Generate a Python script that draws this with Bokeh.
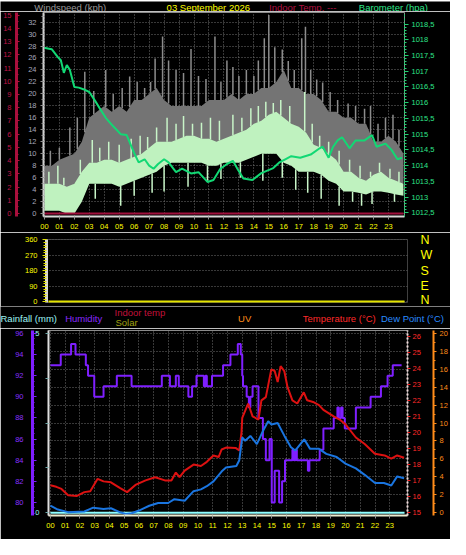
import numpy as np
from bokeh.plotting import figure
from bokeh.models import Range1d, LinearAxis, FixedTicker, CustomJSTickFormatter
from bokeh.core.properties import value
from bokeh.layouts import column
from bokeh.embed import file_html
from bokeh.resources import INLINE

FONT = "Liberation Sans"

# ---------------- data ----------------
hours = list(range(24))

band_t = [0.0, 0.5, 1.0, 1.5, 2.0, 2.5, 3.0, 3.5, 4.0, 4.5, 5.0, 5.5, 6.0, 6.5, 7.0, 7.5,
          8.0, 8.5, 9.0, 9.5, 10.0, 10.5, 11.0, 11.5, 12.0, 12.5, 13.0, 13.5, 14.0, 14.5,
          15.0, 15.5, 16.0, 16.5, 17.0, 17.5, 18.0, 18.5, 19.0, 19.5, 20.0, 20.5, 21.0,
          21.5, 22.0, 22.5, 23.0, 23.5, 24.0]
gust_hi = [8, 8, 9, 9.5, 10, 12, 16, 17, 18, 17, 18, 17, 19, 19, 20, 21, 19, 18, 18, 18,
           18, 18, 19, 19, 19, 20, 19, 20, 20, 21, 21, 22, 24, 21, 21, 20, 20, 19, 17, 17,
           16, 16, 15, 15, 12, 12, 13, 12, 10]
gust_lo = [3, 3, 4, 4, 5, 6, 7, 7, 8, 8, 8, 8, 9, 9, 9, 10, 10, 10, 10, 10,
           10, 10, 10, 10, 10, 10, 10, 11, 11, 12, 12, 12, 11, 10, 10, 9, 8, 8, 7, 7,
           6, 6, 6, 5, 5, 5, 5, 5, 5]
spd_hi = [5, 5, 5, 4.5, 5, 7, 8.5, 8.5, 9, 9, 8.5, 9, 9.5, 10, 11, 12, 12, 12, 12.5, 13,
          13, 12.5, 12.5, 12, 12.5, 13, 13.5, 14, 15, 15.5, 16.5, 17, 16, 15, 14.5, 13.5, 11.5, 11, 10, 9,
          7, 7, 6, 5.5, 6.5, 7, 6, 5.5, 5]
spd_lo = [0.5, 0.5, 0.5, 0, 0, 2, 5, 5, 5, 5, 4.5, 5, 5.5, 6, 6.5, 7, 8, 8.5, 8.5, 8.5,
          8.5, 8.5, 8, 8, 8.5, 8.5, 8.5, 9, 9.5, 10, 10, 10, 8.5, 8, 7, 7, 7, 6.5, 5.5, 5,
          3.7, 3.7, 3.5, 3.2, 3.7, 3.7, 3.5, 3.2, 3]

gust_spike_t = [0.4, 1.0, 1.7, 2.2, 2.7, 3.3, 4.1, 4.6, 5.2, 5.7, 6.2, 6.7, 7.1, 7.4, 7.9,
                8.3, 8.8, 9.3, 9.8, 10.3, 10.8, 11.4, 11.8, 12.2, 12.6, 13.0, 13.5, 14.0,
                14.3, 14.7, 15.0, 15.4, 15.9, 16.3, 16.7, 17.2, 17.45, 17.8, 18.2, 18.6,
                19.1, 19.6, 20.3, 20.8, 21.4, 21.8, 22.3, 22.8, 23.3, 23.7]
gust_spike_v = [10.5, 11, 14.4, 16, 23.7, 20.5, 24, 20, 21, 22.9, 22, 21, 22, 25.9, 29.6,
                25.6, 24, 23.5, 27.5, 23, 22.5, 29.6, 22, 25.6, 24.5, 23, 24, 23,
                25.6, 29.3, 33.2, 27.8, 27.4, 25.5, 24, 29.3, 31.2, 24, 22.4, 21.9,
                20.3, 19, 18.4, 18, 17.5, 18, 15, 16, 16.5, 14]

spd_spike_t = [0.3, 0.9, 1.3, 2.4, 3.2, 3.7, 4.3, 5.0, 5.8, 6.4, 6.9, 7.5, 8.2, 8.8, 9.3,
               9.9, 10.5, 11.1, 11.7, 12.6, 13.2, 13.8, 14.3, 14.8, 15.3, 15.8, 16.4,
               17.4, 17.9, 18.4, 19.0, 19.7, 20.4, 21.1, 21.8, 22.4, 23.1, 23.7]
spd_spike_v = [7, 8, 6, 9, 12.3, 11, 12, 11.5, 12.5, 13, 12.8, 14.4, 16, 15, 16.3,
               15, 15.2, 16, 15.5, 16.5, 16, 17.6, 18, 18.7, 18.5, 19, 18,
               20.3, 15, 13, 12, 10.5, 9, 8, 7, 8.5, 7.5, 7]
spd_dip_t = [1.5, 3.4, 5.1, 6.0, 7.2, 8.0, 9.6, 10.9, 11.8, 13.1, 14.6, 15.9, 16.8, 17.6,
             18.5, 19.7, 20.6, 21.2, 21.9, 23.4]
spd_dip_v = [0, 2.5, 1.3, 3, 3.5, 3.7, 4.5, 5.5, 5.8, 6, 5.5, 6, 4, 3.5,
             2.5, 1.3, 2, 1.3, 1.6, 2]

baro_t = [0.0, 0.3, 0.5, 0.9, 1.1, 1.3, 1.5, 1.7, 2.0, 2.3, 2.6, 3.0, 3.4, 3.7, 4.1, 4.6,
          5.1, 5.5, 6.0, 6.3, 6.7, 7.0, 7.3, 7.6, 8.0, 8.3, 8.8, 9.2, 9.8, 10.3, 10.9, 11.3,
          11.75, 12.2, 12.6, 12.9, 13.3, 13.9, 14.5, 15.3, 15.7, 16.1, 16.5, 17.1, 17.8,
          18.4, 18.6, 19.0, 19.3, 19.6, 19.9, 20.4, 20.8, 21.4, 21.9, 22.2, 22.8, 23.2,
          23.6, 23.9]
baro_v = [1017.75, 1017.72, 1017.70, 1017.45, 1017.35, 1016.95, 1017.2, 1017.05, 1016.5,
          1016.48, 1016.43, 1016.34, 1016.05, 1015.82, 1015.52, 1015.25, 1015.0, 1014.97,
          1014.4, 1014.1, 1014.2, 1014.0, 1013.9, 1014.05, 1014.2, 1014.1, 1013.79, 1013.9,
          1013.75, 1013.79, 1013.48, 1013.54, 1013.89, 1014.05, 1014.15, 1013.9, 1013.59,
          1013.54, 1013.76, 1013.92, 1014.1, 1014.2, 1014.3, 1014.25, 1014.35, 1014.55,
          1014.6, 1014.25, 1014.6, 1014.8, 1014.9, 1014.55, 1014.8, 1014.8, 1014.97,
          1014.6, 1014.7, 1014.5, 1014.2, 1014.25]

indoor_t = [0.0, 24.0]
indoor_v = [0, 0]
wdir_t = [0.0, 24.0]
wdir_v = [0, 0]
rain_t = [0.0, 24.0]
rain_v = [0, 0]

temp_t = [0.0, 0.4, 0.75, 1.2, 1.8, 2.3, 2.7, 3.2, 3.6, 4.1, 4.7, 5.2, 5.8, 6.45, 7.1, 7.76,
          8.2, 8.5, 8.75, 9.1, 9.7, 10.2, 10.6, 11.05, 11.4, 11.6, 11.9, 12.55, 12.8, 12.95,
          13.0, 13.4, 13.7, 14.1, 14.3, 14.6, 14.97, 15.2, 15.4, 15.6, 15.85, 16.07, 16.4,
          16.73, 17.17, 17.4, 17.8, 18.2, 18.5, 19.2, 19.6, 20.0, 20.7, 21.3, 21.99, 22.65,
          23.1, 23.5, 23.97]
temp_v = [16.7, 16.6, 16.47, 16.07, 16.03, 16.27, 16.33, 17.1, 16.94, 16.88, 16.53, 16.27,
          16.74, 17.0, 17.2, 17.0, 17.0, 17.49, 17.2, 17.61, 17.99, 17.9, 18.16, 18.56, 18.46,
          18.93, 19.05, 19.03, 18.87, 20.0, 20.9, 21.8, 21.0, 20.8, 22.0, 22.2, 23.93, 23.83,
          23.14, 24.13, 23.83, 22.82, 22.0, 21.8, 22.5, 22.0, 21.9, 21.7, 21.4, 21.0, 20.8,
          20.5, 19.68, 19.27, 18.66, 18.56, 18.36, 18.56, 18.42]

dew_t = [0.0, 0.5, 1.2, 2.3, 2.9, 3.6, 4.1, 4.7, 5.1, 5.5, 6.0, 6.7, 7.3, 7.98, 8.4, 9.1,
         9.7, 10.2, 10.6, 11.05, 11.6, 11.9, 12.6, 12.8, 13.0, 13.2, 13.55, 13.99, 14.4,
         14.76, 14.98, 15.4, 15.86, 16.3, 16.6, 17.2, 17.6, 18.2, 18.7, 19.4, 20.0, 20.7,
         21.3, 22.0, 22.6, 23.1, 23.5, 23.97]
dew_v = [15.42, 15.18, 15.02, 15.06, 15.3, 15.22, 15.26, 15.02, 14.9, 14.95, 15.12, 15.42,
         15.59, 15.59, 15.83, 15.73, 16.33, 16.44, 16.64, 16.94, 17.55, 17.8, 17.9, 18.26,
         19.68, 19.48, 19.78, 19.27, 20.08, 20.69, 20.49, 20.59, 19.78, 19.07, 18.87, 19.57,
         18.97, 18.97, 18.66, 18.46, 18.05, 17.75, 17.35, 16.84, 16.84, 16.68, 17.25, 17.14]

hum_t = [0.0, 0.7, 1.4, 1.7, 2.4, 2.55, 2.97, 3.6, 4.5, 5.5, 7.55, 8.1, 8.5, 8.7, 9.35, 9.6,
         9.9, 10.4, 10.5, 10.6, 10.95, 11.7, 12.2, 12.7, 12.9, 13.0, 13.05, 13.3, 13.45, 13.55,
         13.7, 14.1, 14.4, 14.6, 14.85, 15.0, 15.2, 15.5, 15.7, 15.9, 16.4, 16.5, 16.6, 16.7,
         17.45, 17.55, 18.25, 18.5, 19.2, 19.45, 19.55, 19.7, 19.8, 19.95, 20.7, 21.7, 22.4,
         22.85, 23.2, 23.8]
hum_v = [93, 94, 95, 94, 93, 92, 90, 91, 92, 91, 92, 91, 92, 91, 90, 91,
         92, 91, 92, 91, 92, 93, 94, 95, 94, 92, 91, 90, 89, 90,
         91, 88, 86, 84, 86, 80, 83, 80, 82, 84, 85, 84, 85, 84,
         83, 84, 85, 87, 88, 89, 88, 89, 88, 87, 89, 90, 91,
         92, 93, 93]

top_titles = ["Windspeed (kph)", "03 September 2026", "Indoor Temp. ---", "Barometer (hpa)"]
top_colors = ["#9a9a9a", "#ffff00", "#b01040", "#2ee68a"]
bottom_titles = ["Rainfall (mm)", "Humidity", "Indoor temp", "Solar", "UV",
                 "Temperature (\u00b0C)", "Dew Point (\u00b0C)"]
bottom_colors = ["#9ff5f5", "#8a2aff", "#c0103a", "#a0a010", "#ff8c1a", "#ff2a2a", "#2a8cff"]

# ---------------- helpers ----------------
GRID = "#707070"


def no_align(p):
    if "frame_align" in p.properties():
        p.frame_align = False
    return p


def base_fig(h, xr, yr, bl, br, bt, bb):
    return no_align(figure(width=450, height=h, x_range=xr, y_range=yr, output_backend="svg",
                           toolbar_location=None, background_fill_color="black",
                           border_fill_color="black", min_border_left=bl, min_border_right=br,
                           min_border_top=bt, min_border_bottom=bb, outline_line_color=None))


def strip_fig(h):
    return no_align(figure(width=450, height=h, x_range=Range1d(0, 450), y_range=Range1d(h, 0),
                           x_axis_type=None, y_axis_type=None, output_backend="svg",
                           toolbar_location=None, background_fill_color="black",
                           border_fill_color="black", min_border=0, outline_line_color=None))


def style_axis(ax, ticks, minor, color, label_color, tick_in=0, tick_out=3, minor_in=0,
               minor_out=2, standoff=4, line_color=None, line_width=1, line_dash="solid",
               font_size="7.5px", fmt=None):
    ax.ticker = FixedTicker(ticks=ticks, minor_ticks=minor)
    if fmt is not None:
        ax.formatter = CustomJSTickFormatter(code=fmt)
    ax.major_label_text_color = label_color
    ax.major_label_text_font = FONT
    ax.major_label_text_font_size = font_size
    ax.major_tick_line_color = color
    ax.minor_tick_line_color = color
    ax.major_tick_in = tick_in
    ax.major_tick_out = tick_out
    ax.minor_tick_in = minor_in
    ax.minor_tick_out = minor_out
    ax.major_label_standoff = standoff
    ax.axis_line_color = line_color
    ax.axis_line_width = line_width
    ax.axis_line_dash = line_dash


def pad_axis(ax, size):
    ax.axis_label = " "
    ax.axis_label_text_font_size = size
    ax.axis_label_standoff = 1


def grid_style(g):
    g.grid_line_color = GRID
    g.grid_line_dash = "1 2"
    g.grid_line_width = 1


HOUR_FMT = "return (tick < 10 ? '0' : '') + tick.toFixed(0);"

# ---------------- title strip (top) ----------------
s1 = strip_fig(11)
s1.text(x=[33.8, 166.1, 268.5, 358.3], y=[5.5, 5.5, 5.5, 5.5], text=top_titles,
        text_color=top_colors, text_font=value(FONT), text_font_size=value("9.5px"),
        text_baseline="middle", text_align="left")

# ---------------- top panel: wind / barometer ----------------
p1 = base_fig(221, Range1d(-0.06, 24.07), Range1d(-0.48, 33.6), 41, 46, 1, 16)
p1.extra_y_ranges = {"indoor": Range1d(-0.22, 15.2), "baro": Range1d(1012.38, 1018.87)}
p1.outline_line_color = "#8a8a8a"

wind_ax = p1.yaxis[0]
style_axis(wind_ax, list(range(0, 33, 2)), [i * 1.0 for i in range(0, 34)], "#909090",
           "#a8a8bc", tick_out=3, minor_out=2, standoff=4, line_color="#d0d0d0", line_width=2)
pad_axis(wind_ax, "4px")

red_ax = LinearAxis(y_range_name="indoor")
style_axis(red_ax, list(range(0, 16)), [i * 0.5 for i in range(0, 31)], "#b0103c", "#c0144a",
           tick_in=3, tick_out=0, minor_in=2, minor_out=0, standoff=5, line_color="#a8103c",
           line_width=3)
p1.add_layout(red_ax, "left")

baro_ax = LinearAxis(y_range_name="baro")
style_axis(baro_ax, [1012.5 + 0.5 * i for i in range(13)], [1012.5 + 0.1 * i for i in range(61)],
           "#20d070", "#2ee68a", tick_out=4, minor_out=2, standoff=3, line_color="#20d070",
           line_width=1, line_dash="2 2",
           fmt="var s = tick.toFixed(1); if (s.slice(-2) == '.0') { s = s.slice(0, -2); } return s.replace('.', ',');")
p1.add_layout(baro_ax, "right")

xa1 = p1.xaxis[0]
style_axis(xa1, hours, [], "#909090", "#ffff00", tick_out=3, minor_out=0, standoff=4,
           line_color="#d8d8d8", line_width=2, fmt=HOUR_FMT)
grid_style(p1.xgrid[0])
grid_style(p1.ygrid[0])

p1.varea(x=band_t, y1=gust_lo, y2=gust_hi, fill_color="#747474")
p1.segment(x0=gust_spike_t, y0=np.interp(gust_spike_t, band_t, gust_hi), x1=gust_spike_t,
           y1=gust_spike_v, line_color="#8c8c8c", line_width=1.5)
p1.varea(x=band_t, y1=spd_lo, y2=spd_hi, fill_color="#bff2bf")
p1.segment(x0=spd_spike_t, y0=np.interp(spd_spike_t, band_t, spd_hi), x1=spd_spike_t,
           y1=spd_spike_v, line_color="#c8f5c8", line_width=1.5)
p1.segment(x0=spd_dip_t, y0=np.interp(spd_dip_t, band_t, spd_lo), x1=spd_dip_t,
           y1=spd_dip_v, line_color="#c8f5c8", line_width=1.5)
p1.line(indoor_t, indoor_v, y_range_name="indoor", line_color="#a0103c", line_width=2)
p1.line(baro_t, baro_v, y_range_name="baro", line_color="#12d874", line_width=2)

# ---------------- middle panel: wind direction ----------------
p2 = base_fig(74, Range1d(-0.13, 24.2), Range1d(-3, 362), 46, 43, 7, 4)
p2.xaxis.visible = False
p2.xgrid.visible = False
dir_ax = p2.yaxis[0]
style_axis(dir_ax, [0, 90, 180, 270, 360], [15 * i for i in range(25)], "#e0e000", "#ffff00",
           tick_out=4, minor_out=3, standoff=5, line_color="#d8d8d8", line_width=3)
grid_style(p2.ygrid[0])
compass_ax = LinearAxis()
style_axis(compass_ax, [0, 90, 180, 270, 360], [], "#000000", "#ffff00", tick_out=0,
           minor_out=0, standoff=13, line_color=None, font_size="12.5px",
           fmt="var m = {0: 'N', 90: 'E', 180: 'S', 270: 'W', 360: 'N'}; var k = Math.round(tick); return (k in m) ? m[k] : '';")
compass_ax.major_tick_line_color = None
p2.add_layout(compass_ax, "right")
p2.line(wdir_t, wdir_v, line_color="#e6e600", line_width=3)

# ---------------- title strip (bottom) ----------------
s2 = strip_fig(22)
s2.text(x=[0, 64.7, 114, 114.9, 237.6, 302.3, 380.5],
        y=[11.6, 11.6, 5.6, 16.4, 11.6, 11.6, 11.6], text=bottom_titles,
        text_color=bottom_colors, text_font=value(FONT), text_font_size=value("9.5px"),
        text_baseline="middle", text_align="left")

# ---------------- bottom panel: temperature / humidity ----------------
p3 = base_fig(211, Range1d(-0.13, 24.2), Range1d(-0.08, 5.08), 48, 43, 2, 24)
p3.extra_y_ranges = {"hum": Range1d(78.77, 96.28), "temp": Range1d(14.81, 26.36),
                     "uv": Range1d(-0.33, 20.33)}
p3.outline_line_color = "#8a8a8a"

rain_ax = p3.yaxis[0]
style_axis(rain_ax, [0, 1.25, 2.5, 3.75, 5], [], "#70a8a8", "#9ff5f5", tick_out=3,
           minor_out=0, standoff=6, line_color="#e0e0e0", line_width=2,
           fmt="return (tick == 0 || tick == 5) ? tick.toFixed(0) : '';")

hum_ax = LinearAxis(y_range_name="hum")
style_axis(hum_ax, list(range(80, 97, 2)), [78 + 0.5 * i for i in range(38)], "#7f1fff",
           "#8a30ff", tick_in=4, tick_out=0, minor_in=2, minor_out=0, standoff=9,
           line_color="#7f1fff", line_width=3)
p3.add_layout(hum_ax, "left")

temp_ax = LinearAxis(y_range_name="temp")
style_axis(temp_ax, list(range(15, 27)), [], "#ff2020", "#ff2a2a", tick_out=3, minor_out=0,
           standoff=2, line_color="#f0d8d8", line_width=2, line_dash="2 2")
pad_axis(temp_ax, "5px")
p3.add_layout(temp_ax, "right")

uv_ax = LinearAxis(y_range_name="uv")
style_axis(uv_ax, list(range(0, 21, 2)), list(range(0, 21)), "#ff8c1a", "#ff8c1a",
           tick_out=3, minor_out=2, standoff=3, line_color="#ff8c1a", line_width=2)
p3.add_layout(uv_ax, "right")

xa3 = p3.xaxis[0]
style_axis(xa3, hours, [], "#909090", "#ffff00", tick_out=3, minor_out=0, standoff=4,
           line_color="#ecebd0", line_width=2, fmt=HOUR_FMT)
grid_style(p3.xgrid[0])
grid_style(p3.ygrid[0])
p3.ygrid[0].ticker = FixedTicker(ticks=[0.5 * i for i in range(1, 11)])

p3.line(rain_t, rain_v, line_color="#90ffff", line_width=2)
p3.step(hum_t, hum_v, y_range_name="hum", mode="after", line_color="#7f1fff", line_width=2)
p3.line(temp_t, temp_v, y_range_name="temp", line_color="#dd1111", line_width=2)
p3.line(dew_t, dew_v, y_range_name="temp", line_color="#1a75e0", line_width=2)

layout = column(s1, p1, p2, s2, p3, spacing=0)
open("out.html", "w").write(file_html(layout, INLINE))
